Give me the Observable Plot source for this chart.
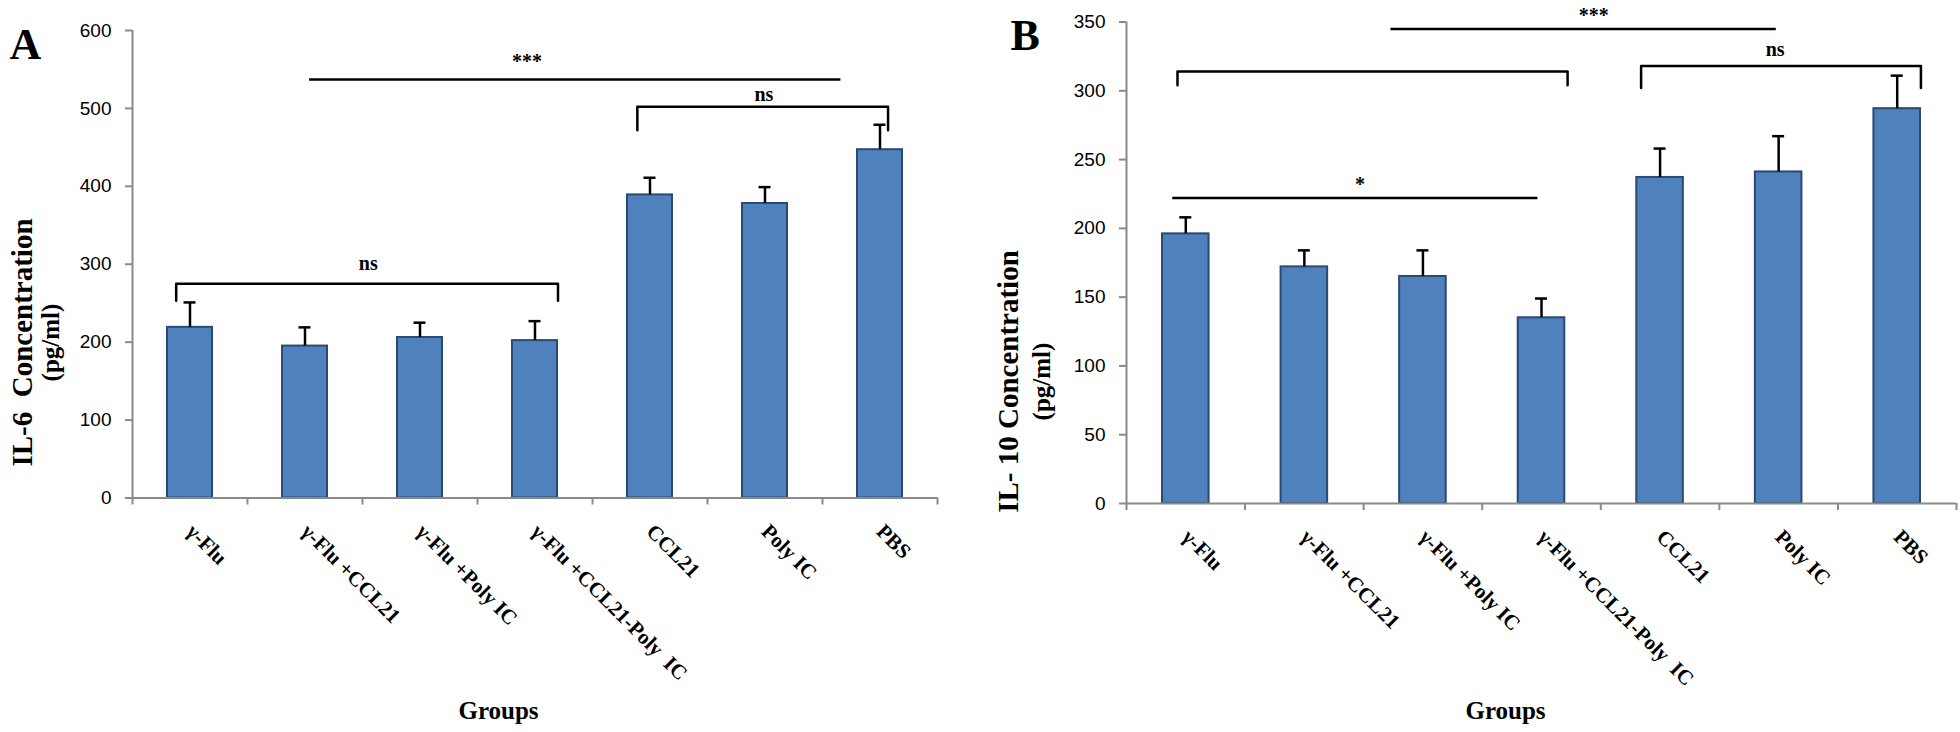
<!DOCTYPE html>
<html><head><meta charset="utf-8">
<script src="https://cdn.jsdelivr.net/npm/d3@7"></script>
<script src="https://cdn.jsdelivr.net/npm/@observablehq/plot@0.6"></script>
<style>
html,body{margin:0;padding:0;background:#fff;}
#wrap{position:relative;width:1960px;height:732px;overflow:hidden;background:#fff;}
#wrap svg{position:absolute;top:0;overflow:visible;}
</style></head><body><div id="wrap"></div>
<script>
// ---- data ----
const groups = ["γ-Flu", "γ-Flu +CCL21", "γ-Flu +Poly IC", "γ-Flu +CCL21-Poly\u00a0 IC", "CCL21", "Poly IC", "PBS"];
const il6Mean = [219, 195, 206, 202, 389, 378, 447];
const il6Err  = [32, 24, 19, 25, 22, 21, 32];
const il10Mean = [196, 172, 165, 135, 237, 241, 287];
const il10Err  = [12, 12, 19, 14, 21, 26, 24];
const il6Ticks = [0, 100, 200, 300, 400, 500, 600];
const il10Ticks = [0, 50, 100, 150, 200, 250, 300, 350];
// significance annotations (x in group units: group i spans [i, i+1])
const il6Brackets = [{x1: 0.38, x2: 3.70, top: 275, hook: 253}, {x1: 4.39, x2: 6.57, top: 502, hook: 472}];
const il6Lines = [{x1: 1.54, x2: 6.16, y: 537}];
const il6Marks = [{x: 2.05, y: 301, text: "ns"}, {x: 5.49, y: 518, text: "ns"}, {x: 3.43, y: 560, text: "***"}];
const il10Brackets = [{x1: 0.43, x2: 3.72, top: 314, hook: 304}, {x1: 4.34, x2: 6.70, top: 318, hook: 302}];
const il10Lines = [{x1: 2.23, x2: 5.48, y: 345}, {x1: 0.39, x2: 3.47, y: 222}];
const il10Marks = [{x: 5.47, y: 330, text: "ns"}, {x: 3.94, y: 355, text: "***"}, {x: 1.97, y: 232, text: "*"}];

const serif = "'Liberation Serif', 'Times New Roman', serif";
const sans = "'Liberation Sans', Arial, sans-serif";
const axisGray = "#8a8a8a";

function panel(cfg) {
  const data = groups.map((g, i) => ({i, g, mean: cfg.mean[i], err: cfg.err[i]}));
  const step = (cfg.width - cfg.marginLeft - cfg.marginRight) / groups.length;
  const bracketPts = cfg.brackets.flatMap((b, k) => [
    {k, x: b.x1, y: b.hook}, {k, x: b.x1, y: b.top}, {k, x: b.x2, y: b.top}, {k, x: b.x2, y: b.hook}
  ]);
  const frameMidY = (cfg.marginTop + (cfg.height - cfg.marginBottom)) / 2;
  const frameMidX = (cfg.marginLeft + (cfg.width - cfg.marginRight)) / 2;
  return Plot.plot({
    width: cfg.width, height: cfg.height,
    marginLeft: cfg.marginLeft, marginRight: cfg.marginRight,
    marginTop: cfg.marginTop, marginBottom: cfg.marginBottom,
    style: {fontFamily: serif, background: "transparent", overflow: "visible"},
    x: {domain: [0, groups.length]},
    y: {domain: cfg.yDomain},
    marks: [
      Plot.rectY(data, {x1: "i", x2: d => d.i + 1, y1: 0, y2: "mean",
        insetLeft: cfg.inset, insetRight: cfg.inset,
        fill: "#4f81bd", stroke: "#2b4a73", strokeWidth: 2}),
      Plot.ruleX(data, {x: d => d.i + 0.5, y1: "mean", y2: d => d.mean + d.err, stroke: "#000", strokeWidth: 2.5}),
      Plot.ruleY(data, {x1: "i", x2: d => d.i + 1, y: d => d.mean + d.err,
        insetLeft: (step - 12) / 2, insetRight: (step - 12) / 2, stroke: "#000", strokeWidth: 2.5}),
      Plot.ruleX([0], {y1: 0, y2: cfg.yDomain[1], stroke: axisGray, strokeWidth: 2}),
      Plot.ruleY([0], {stroke: axisGray, strokeWidth: 2}),
      Plot.axisY({ticks: cfg.yTicks, tickSize: 7, tickPadding: 14, stroke: axisGray, strokeWidth: 2,
        fontSize: 19, fontFamily: sans, fill: "#000", label: null}),
      Plot.axisX({ticks: d3.range(0, groups.length + 1), tickSize: 7, stroke: axisGray, strokeWidth: 2,
        tickFormat: () => "", label: null}),
      Plot.axisX({ticks: d3.range(groups.length).map(i => i + 0.5), tickSize: 0, tickPadding: cfg.labelPad,
        tickRotate: 45, tickFormat: d => groups[Math.floor(d)], fontSize: 21, fontWeight: "bold",
        fontFamily: serif, fill: "#000", label: null}),
      Plot.line(bracketPts, {x: "x", y: "y", z: "k", stroke: "#000", strokeWidth: 2.5, strokeLinejoin: "round"}),
      Plot.ruleY(cfg.lines, {x1: "x1", x2: "x2", y: "y", stroke: "#000", strokeWidth: 2.5}),
      Plot.text(cfg.marks, {x: "x", y: "y", text: "text", fontSize: 20, fontWeight: "bold", fill: "#000"}),
      // panel letter
      Plot.text([cfg.letter], {frameAnchor: "top-left", dx: cfg.letterX - cfg.marginLeft, dy: cfg.letterY - cfg.marginTop,
        textAnchor: "start", fontSize: 44, fontWeight: "bold", fill: "#000"}),
      // y title (two lines)
      Plot.text([cfg.yTitle1], {frameAnchor: "left", rotate: -90, dx: cfg.t1x - cfg.marginLeft, dy: cfg.ty - frameMidY,
        textAnchor: "middle", fontSize: 29, fontWeight: "bold", fill: "#000"}),
      Plot.text(["(pg/ml)"], {frameAnchor: "left", rotate: -90, dx: cfg.t2x - cfg.marginLeft, dy: cfg.ty - frameMidY,
        textAnchor: "middle", fontSize: 25, fontWeight: "bold", fill: "#000"}),
      // x title
      Plot.text(["Groups"], {frameAnchor: "bottom", dx: cfg.gx - frameMidX, dy: cfg.gy - (cfg.height - cfg.marginBottom),
        textAnchor: "middle", fontSize: 25, fontWeight: "bold", fill: "#000"})
    ]
  });
}

const wrap = document.getElementById("wrap");
const a = panel({
  width: 980, height: 732, marginLeft: 132, marginRight: 43, marginTop: 30, marginBottom: 234.5,
  yDomain: [0, 600], yTicks: il6Ticks, mean: il6Mean, err: il6Err, inset: 35, labelPad: 30,
  brackets: il6Brackets, lines: il6Lines, marks: il6Marks,
  letter: "A", letterX: 9, letterY: 27,
  yTitle1: "IL-6\u00a0 Concentration", t1x: 22, t2x: 50, ty: 342,
  gx: 498, gy: 718
});
a.style.left = "0px";
wrap.appendChild(a);
const b = panel({
  width: 980, height: 732, marginLeft: 146, marginRight: 4, marginTop: 21.5, marginBottom: 229,
  yDomain: [0, 350], yTicks: il10Ticks, mean: il10Mean, err: il10Err, inset: 36, labelPad: 30,
  brackets: il10Brackets, lines: il10Lines, marks: il10Marks,
  letter: "B", letterX: 30, letterY: 18,
  yTitle1: "IL- 10 Concentration", t1x: 28, t2x: 61, ty: 381,
  gx: 525, gy: 718
});
b.style.left = "980px";
wrap.appendChild(b);
</script>
</body></html>
